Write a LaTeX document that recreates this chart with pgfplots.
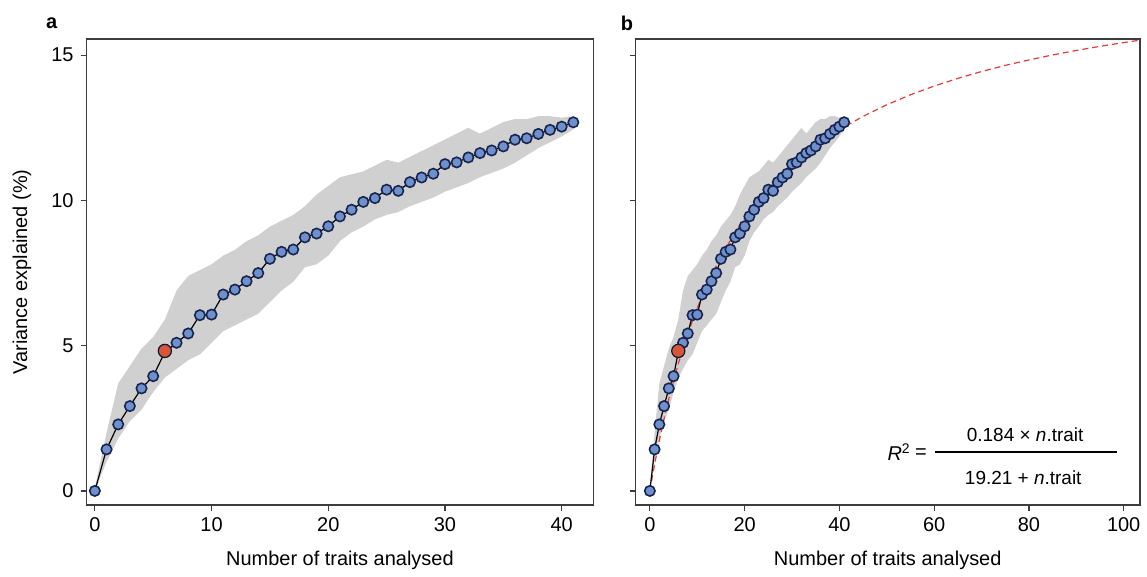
\documentclass[border=0pt]{standalone}
\usepackage{fontspec}
\setmainfont{Liberation Sans}
\usepackage{pgfplots}
\usepgfplotslibrary{fillbetween}
\pgfplotsset{compat=1.18}
\usepackage{pgfplotstable}
\definecolor{bandgrey}{RGB}{208,208,208}
\definecolor{ptfill}{RGB}{112,144,204}
\definecolor{ptedge}{RGB}{24,36,80}
\definecolor{ptred}{RGB}{214,86,58}
\definecolor{fitred}{RGB}{228,58,58}
\definecolor{boxgrey}{RGB}{60,60,60}

\pgfplotstableread{
x y lo hi
0 0.00 0.00 0.10
1 1.43 1.00 2.00
2 2.29 1.80 3.70
3 2.92 2.40 4.30
4 3.53 2.80 4.90
5 3.95 3.40 5.30
6 4.78 3.90 5.90
7 5.10 4.20 6.90
8 5.42 4.50 7.40
9 6.05 4.70 7.60
10 6.07 5.10 7.80
11 6.76 5.50 8.10
12 6.93 5.70 8.30
13 7.22 5.90 8.60
14 7.50 6.10 8.80
15 7.99 6.50 9.10
16 8.23 6.90 9.30
17 8.31 7.20 9.50
18 8.73 7.70 9.80
19 8.86 7.80 10.20
20 9.11 8.10 10.50
21 9.45 8.60 10.80
22 9.68 8.90 10.90
23 9.95 9.10 11.00
24 10.08 9.35 11.20
25 10.37 9.50 11.40
26 10.33 9.60 11.30
27 10.63 9.80 11.50
28 10.79 9.95 11.70
29 10.92 10.10 11.90
30 11.25 10.30 12.10
31 11.31 10.45 12.30
32 11.48 10.60 12.50
33 11.63 10.80 12.30
34 11.72 10.95 12.50
35 11.86 11.10 12.70
36 12.09 11.30 12.80
37 12.14 11.55 12.80
38 12.29 11.80 12.90
39 12.43 12.00 12.90
40 12.54 12.20 12.85
41 12.69 12.45 12.90
}\traits

\pgfplotstableread{
x y
0 0.000
1 0.910
2 1.735
3 2.485
4 3.171
5 3.800
6 4.379
8 5.410
10 6.299
12 7.075
15 8.068
18 8.901
20 9.385
25 10.405
30 11.217
35 11.880
40 12.430
45 12.895
50 13.293
55 13.637
60 13.938
65 14.202
70 14.438
75 14.648
80 14.837
85 15.008
90 15.163
95 15.305
100 15.435
104 15.531
}\fit

\pgfplotsset{
  panel/.style={
    scale only axis, height=233.35pt,
    ymin=-0.48, ymax=15.56, ytick={0,5,10,15},
    tick align=outside, major tick length=3pt,
    tick pos=left,
    axis line style={boxgrey, line width=0.7pt},
    every tick/.style={boxgrey, line width=0.6pt},
    /pgf/number format/assume math mode=true,
    ticklabel style={font=\fontsize{10}{12}\selectfont},
    label style={font=\fontsize{10}{12}\selectfont},
    xlabel={Number of traits analysed},
    xlabel style={at={(axis description cs:0.5,-0.1185)}, anchor=center},
  },
  pts/.style={black, line width=0.6pt, mark=*, mark size=2.6pt,
    mark options={fill=ptfill, draw=ptedge, line width=0.8pt}},
  redpt/.style={only marks, mark=*, mark size=3.3pt,
    mark options={fill=ptred, draw=ptedge!60!black, line width=0.6pt}},
}

\begin{document}
\begin{tikzpicture}
\path (0,0) rectangle (573.5pt,288pt);

\begin{axis}[panel, at={(43.35pt,35.15pt)}, anchor=south west,
  width=253.8pt, xmin=-0.71, xmax=42.71, xtick={0,10,20,30,40},
  ylabel={Variance explained (\%)},
  ylabel style={at={(axis description cs:-0.1275,0.5)}, anchor=center}]
\addplot[name path=hiA, draw=none, forget plot] table[x=x, y=hi] {\traits};
\addplot[name path=loA, draw=none, forget plot] table[x=x, y=lo] {\traits};
\addplot[fill=bandgrey, draw=none] fill between[of=hiA and loA];
\addplot[pts] table[x=x, y=y] {\traits};
\addplot[redpt] coordinates {(6,4.82)};
\end{axis}

\begin{axis}[panel, at={(318.35pt,35.15pt)}, anchor=south west,
  width=252.5pt, xmin=-3.0, xmax=103.4, xtick={0,20,40,60,80,100},
  yticklabels={}]
\addplot[name path=hiB, draw=none, forget plot] table[x=x, y=hi] {\traits};
\addplot[name path=loB, draw=none, forget plot] table[x=x, y=lo] {\traits};
\addplot[fill=bandgrey, draw=none] fill between[of=hiB and loB];
\addplot[fitred, line width=0.6pt, dash pattern=on 3pt off 2pt] table[x=x, y=y] {\fit};
\addplot[pts] table[x=x, y=y] {\traits};
\addplot[redpt] coordinates {(6,4.82)};
\node[font=\fontsize{10}{12}\selectfont] at (axis cs:52.6,1.34) {\textit{R}\textsuperscript{2}};
\node[font=\fontsize{10}{12}\selectfont] at (axis cs:57.2,1.30) {=};
\draw[black, line width=0.8pt] (axis cs:60.25,1.34) -- (axis cs:98.6,1.34);
\node[font=\fontsize{9.5}{12}\selectfont] at (axis cs:79.2,1.95) {0.184 × \textit{n}.trait};
\node[font=\fontsize{9.5}{12}\selectfont] at (axis cs:78.8,0.45) {19.21 + \textit{n}.trait};
\end{axis}

\node[font=\bfseries\fontsize{10}{12}\selectfont] at (25.9pt,276.5pt) {a};
\node[font=\bfseries\fontsize{10}{12}\selectfont] at (314pt,276.5pt) {b};
\end{tikzpicture}
\end{document}
